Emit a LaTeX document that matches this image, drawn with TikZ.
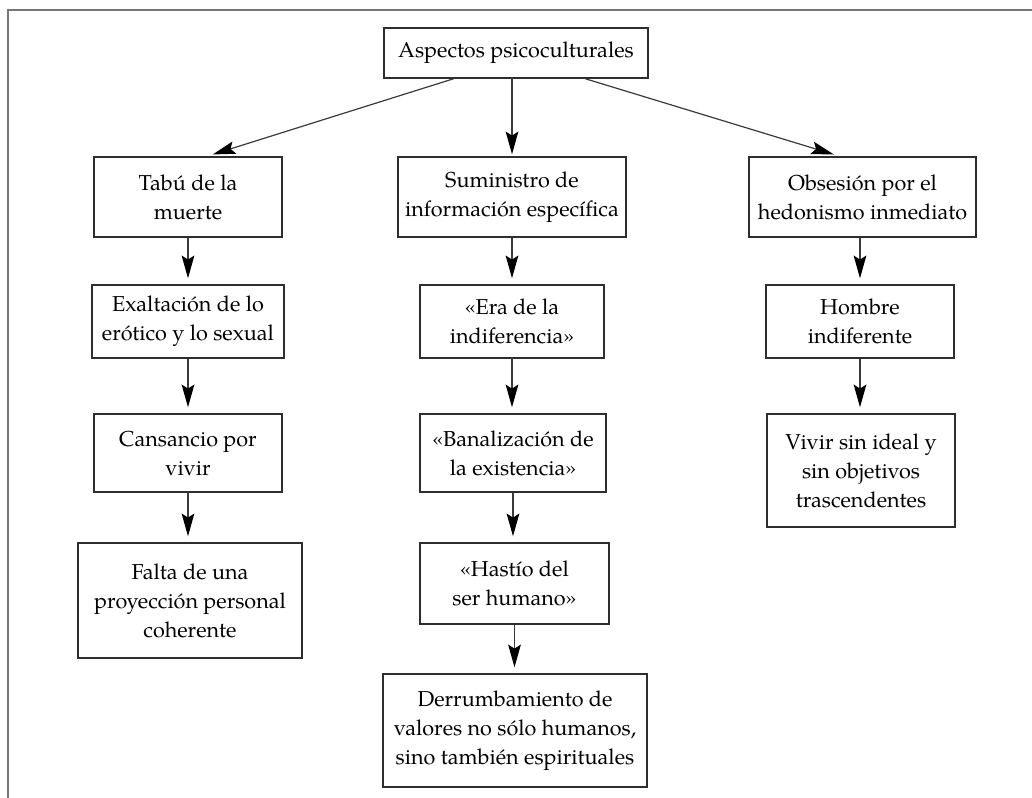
\documentclass[tikz,border=0pt]{standalone}
\usepackage{fontspec}
\setmainfont{TeX Gyre Pagella}
\usetikzlibrary{arrows.meta,calc}
\definecolor{boxline}{HTML}{2E2E2E}
\definecolor{linkgray}{HTML}{3A3A3A}
\definecolor{framegray}{HTML}{767676}
% box: name, centre x, centre y, width, height, text (all in px units)
\newcommand\conceptbox[6]{%
  \node[box,minimum width=#4*0.75pt,minimum height=#5*0.75pt] (#1) at (#2,#3) {#6};}
\begin{document}
\begin{tikzpicture}[x=0.75pt,y=-0.75pt,
  box/.style={draw=boxline,line width=1.1pt,rectangle,align=center,inner sep=0pt,
              font=\fontsize{16.2}{21.75}\selectfont},
  link/.style={draw=linkgray,line width=0.9pt,
               -{Stealth[length=17pt,width=9.5pt,inset=3pt,color=black]},shorten >=4.5pt}]
\useasboundingbox (0,0) rectangle (1032,798);

% open frame: top and left edges
\draw[framegray,line width=1.5pt] (1032,10.5) -- (8,10.5) -- (8,798);

% root
\conceptbox{root}{516}{53}{264}{50}{Aspectos psicoculturales}

% left column
\conceptbox{tabu}{188}{197}{188}{80}{Tabú de la\\muerte}
\conceptbox{exalt}{188}{321.5}{192}{73}{Exaltación de lo\\erótico y lo sexual}
\conceptbox{cans}{188}{453}{188}{78}{Cansancio por\\vivir}
\conceptbox{falta}{190}{600.5}{224}{115}{Falta de una\\proyección personal\\coherente}

% middle column
\conceptbox{sumin}{512}{197}{228}{80}{Suministro de\\información específica}
\conceptbox{era}{512}{321.5}{184}{73}{«Era de la\\indiferencia»}
\conceptbox{banal}{513}{453}{186}{78}{«Banalización de\\la existencia»}
\conceptbox{hastio}{514.5}{583.5}{189}{81}{«Hastío del\\ser humano»}
\conceptbox{derr}{515}{730.5}{264}{113}{Derrumbamiento de\\valores no sólo humanos,\\sino también espirituales}

% right column
\conceptbox{obses}{862.5}{197}{227}{80}{Obsesión por el\\hedonismo inmediato}
\conceptbox{hombre}{860}{321.5}{188}{73}{Hombre\\indiferente}
\conceptbox{vivir}{861}{470.5}{188}{113}{Vivir sin ideal y\\sin objetivos\\trascendentes}

% branches from the root
\coordinate (rootL) at ($(root.south west)!0.265!(root.south east)$);
\coordinate (rootM) at ($(root.south west)!0.485!(root.south east)$);
\coordinate (rootR) at ($(root.south west)!0.761!(root.south east)$);
\draw[link] (rootL) -- ($(tabu.north west)!0.6!(tabu.north east)$);
\draw[link,shorten >=1.5pt] (rootM) -- (rootM |- sumin.north);
\draw[link] (rootR) -- ($(obses.north west)!0.4!(obses.north east)$);

% chains
\draw[link] (tabu.south) -- (tabu.south |- exalt.north);
\draw[link] (exalt.south) -- (exalt.south |- cans.north);
\draw[link] (cans.south) -- (cans.south |- falta.north);

\draw[link] (sumin.south) -- (sumin.south |- era.north);
\draw[link] (era.south) -- (era.south |- banal.north);
\draw[link] (banal.south) -- (banal.south |- hastio.north);
\draw[link] (hastio.south) -- (hastio.south |- derr.north);

\draw[link] (obses.south -| hombre.north) -- (hombre.north);
\draw[link] (hombre.south) -- (hombre.south |- vivir.north);
\end{tikzpicture}
\end{document}
